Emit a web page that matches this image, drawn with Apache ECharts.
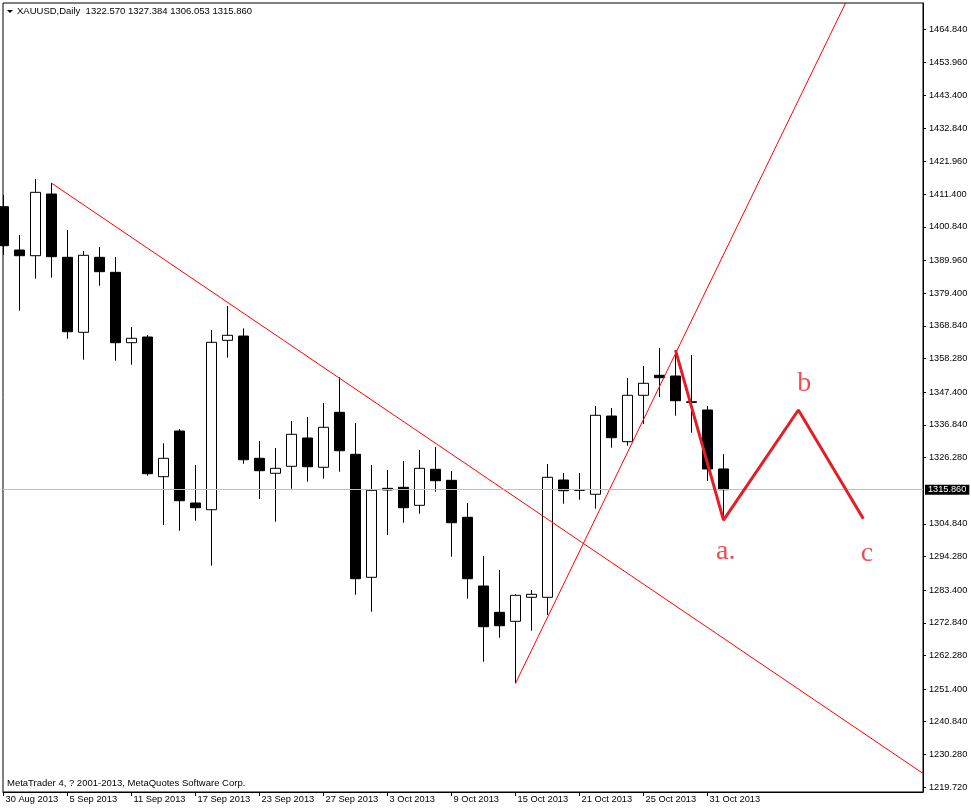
<!DOCTYPE html>
<html><head><meta charset="utf-8">
<script src="https://cdn.jsdelivr.net/npm/echarts@6/dist/echarts.min.js"></script>
<style>html,body{margin:0;padding:0;background:#fff}#c{width:971px;height:809px}</style>
</head><body><div id="c"></div>
<script>
// ---- data ----
const dates = ['30 Aug 2013','2 Sep 2013','3 Sep 2013','4 Sep 2013','5 Sep 2013','6 Sep 2013',
  '9 Sep 2013','10 Sep 2013','11 Sep 2013','12 Sep 2013','13 Sep 2013',
  '16 Sep 2013','17 Sep 2013','18 Sep 2013','19 Sep 2013','20 Sep 2013',
  '23 Sep 2013','24 Sep 2013','25 Sep 2013','26 Sep 2013','27 Sep 2013',
  '30 Sep 2013','1 Oct 2013','2 Oct 2013','3 Oct 2013','4 Oct 2013',
  '7 Oct 2013','8 Oct 2013','9 Oct 2013','10 Oct 2013','11 Oct 2013',
  '14 Oct 2013','15 Oct 2013','16 Oct 2013','17 Oct 2013','18 Oct 2013',
  '21 Oct 2013','22 Oct 2013','23 Oct 2013','24 Oct 2013','25 Oct 2013',
  '28 Oct 2013','29 Oct 2013','30 Oct 2013','31 Oct 2013','1 Nov 2013'];
const openP  = [1407.38,1393.37,1391.53,1411.48,1391.01,1366.76,1391.01,1386.16,1363.40,1365.24,1320.07,
  1334.84,1311.56,1309.39,1364.17,1365.56,1326.02,1321.17,1323.43,1332.58,1323.11,
  1340.89,1327.31,1287.53,1316.31,1316.64,1310.81,1322.46,1318.90,1306.94,1284.72,
  1276.21,1273.31,1281.07,1281.07,1319.00,1315.90,1314.38,1339.69,1331.39,1346.39,
  1352.86,1352.63,1344.30,1341.64,1322.57];
const closeP = [1394.77,1391.53,1412.03,1391.21,1366.95,1391.66,1386.36,1363.40,1364.82,1321.04,1326.02,
  1312.30,1310.04,1363.53,1365.79,1325.56,1322.01,1322.78,1333.78,1323.30,1336.04,
  1328.47,1287.08,1315.67,1315.77,1310.04,1322.78,1318.77,1305.19,1287.08,1271.56,
  1271.88,1281.71,1282.04,1319.87,1315.54,1315.65,1339.92,1332.68,1346.39,1350.27,
  1352.08,1344.64,1344.10,1322.56,1315.86];
const lowP   = [1391.76,1373.75,1384.09,1384.42,1364.69,1357.90,1381.83,1357.58,1356.28,1320.39,1304.45,
  1302.60,1305.84,1291.29,1358.55,1324.27,1312.85,1305.52,1316.19,1318.45,1319.42,
  1321.68,1281.91,1276.41,1301.21,1305.19,1308.10,1315.22,1294.20,1280.62,1260.24,
  1268.00,1253.26,1270.27,1275.34,1311.34,1312.63,1309.72,1329.44,1330.09,1337.11,
  1345.84,1339.79,1334.29,1318.68,1306.053];
const highP  = [1411.16,1398.23,1416.33,1415.04,1399.84,1393.05,1394.34,1391.11,1368.47,1365.89,1330.87,
  1335.49,1323.85,1367.50,1375.27,1368.05,1331.61,1329.35,1338.08,1339.37,1343.90,
  1352.21,1337.43,1323.85,1322.23,1325.14,1328.70,1329.67,1321.91,1311.56,1294.42,
  1289.90,1282.14,1283.43,1324.17,1321.26,1321.26,1342.93,1342.28,1351.98,1355.86,
  1361.68,1361.04,1359.42,1342.93,1327.384];
const yTickLabels = ['1464.840','1453.960','1443.400','1432.840','1421.960','1411.400','1400.840',
  '1389.960','1379.400','1368.840','1358.280','1347.400','1336.840','1326.280',
  '1304.840','1294.280','1283.400','1272.840','1262.280','1251.400','1240.840',
  '1230.280','1219.720'];
const xTickIndex = [0,4,8,12,16,20,24,28,32,36,40,44];
// trend lines [barIndex, price]
const downTrend = [[3, 1415.0], [57.47, 1224.1]];
const upTrend = [[32, 1253.26], [52.63, 1473.25]];
const waveABC = [[42, 1361.0], [45, 1306.05], [49.68, 1341.64], [53.74, 1306.5]];
const waveLabels = [[45.14, 1295.9, 'a.'], [50.05, 1350.3, 'b'], [53.97, 1295.1, 'c']];
const symbolInfo = 'XAUUSD,Daily';
const copyright = 'MetaTrader 4, ? 2001-2013, MetaQuotes Software Corp.';

const last = dates.length - 1;
const currentPrice = closeP[last];
const candleData = dates.map((d, i) => [i, openP[i], closeP[i], lowP[i], highP[i]]);
const FONT = 'Liberation Sans';

const chart = echarts.init(document.getElementById('c'), null, {renderer: 'canvas'});
chart.setOption({
  animation: false,
  backgroundColor: '#fff',
  grid: {left: 3, right: 48, top: 3, bottom: 17, show: true, borderColor: '#000', borderWidth: 1, backgroundColor: '#fff'},
  xAxis: {
    type: 'value', min: -0.03125, max: 57.46875,
    splitLine: {show: false},
    axisLine: {show: true, onZero: false, lineStyle: {color: '#000', width: 1}},
    axisTick: {show: true, length: 4, lineStyle: {color: '#000'}, customValues: xTickIndex},
    axisLabel: {show: true, customValues: xTickIndex, align: 'left', margin: 3, padding: [0, 0, 0, 2],
      color: '#000', fontFamily: FONT, fontSize: 9.3,
      formatter: v => dates[Math.round(v)] || ''}
  },
  yAxis: {
    type: 'value', position: 'right', min: 1218.11, max: 1473.25, scale: true,
    splitLine: {show: false},
    axisLine: {show: true, onZero: false, lineStyle: {color: '#000', width: 1}},
    axisTick: {show: true, length: 3, lineStyle: {color: '#000'}, customValues: yTickLabels.map(Number)},
    axisLabel: {show: true, customValues: yTickLabels.map(Number), margin: 6, color: '#000',
      fontFamily: FONT, fontSize: 9.2, formatter: v => v.toFixed(3)}
  },
  graphic: [
    {type: 'polygon', shape: {points: [[7, 10], [13, 10], [10, 13]]}, style: {fill: '#000'}},
    {type: 'text', left: 17, top: 6, style: {text: symbolInfo + '  ' + [openP[last].toFixed(3), highP[last].toFixed(3), lowP[last].toFixed(3), closeP[last].toFixed(3)].join(' '),
      fill: '#000', font: '9.5px "Liberation Sans"'}},
    {type: 'text', left: 7, top: 778, style: {text: copyright, fill: '#000', font: '9.5px "Liberation Sans"'}}
  ],
  series: [
    {
      type: 'candlestick', data: candleData, barWidth: 10, clip: true,
      itemStyle: {color: '#fff', color0: '#000', borderColor: '#000', borderColor0: '#000', borderWidth: 1},
      markLine: {
        silent: true, symbol: ['none', 'none'], animation: false,
        lineStyle: {color: '#c0c0c0', width: 1, type: 'solid'},
        label: {show: true, position: 'end', distance: 2, formatter: currentPrice.toFixed(3),
          backgroundColor: '#000', color: '#fff', padding: [1, 3, 0, 3], fontFamily: FONT, fontSize: 9.2},
        data: [{yAxis: currentPrice}]
      },
      z: 3
    },
    {type: 'line', data: downTrend, symbol: 'none', lineStyle: {color: '#ff0000', width: 1}, z: 4},
    {type: 'line', data: upTrend, symbol: 'none', lineStyle: {color: '#ff0000', width: 1}, z: 4},
    {type: 'line', data: waveABC, symbol: 'none', lineStyle: {color: '#e41e26', width: 3}, z: 5},
    {type: 'scatter', data: waveLabels, symbolSize: 1, itemStyle: {color: 'rgba(0,0,0,0)'},
      label: {show: true, position: 'inside', formatter: p => p.value[2],
        fontFamily: 'Liberation Serif', fontSize: 28, color: '#e8202a'}, z: 6}
  ]
});
</script></body></html>
